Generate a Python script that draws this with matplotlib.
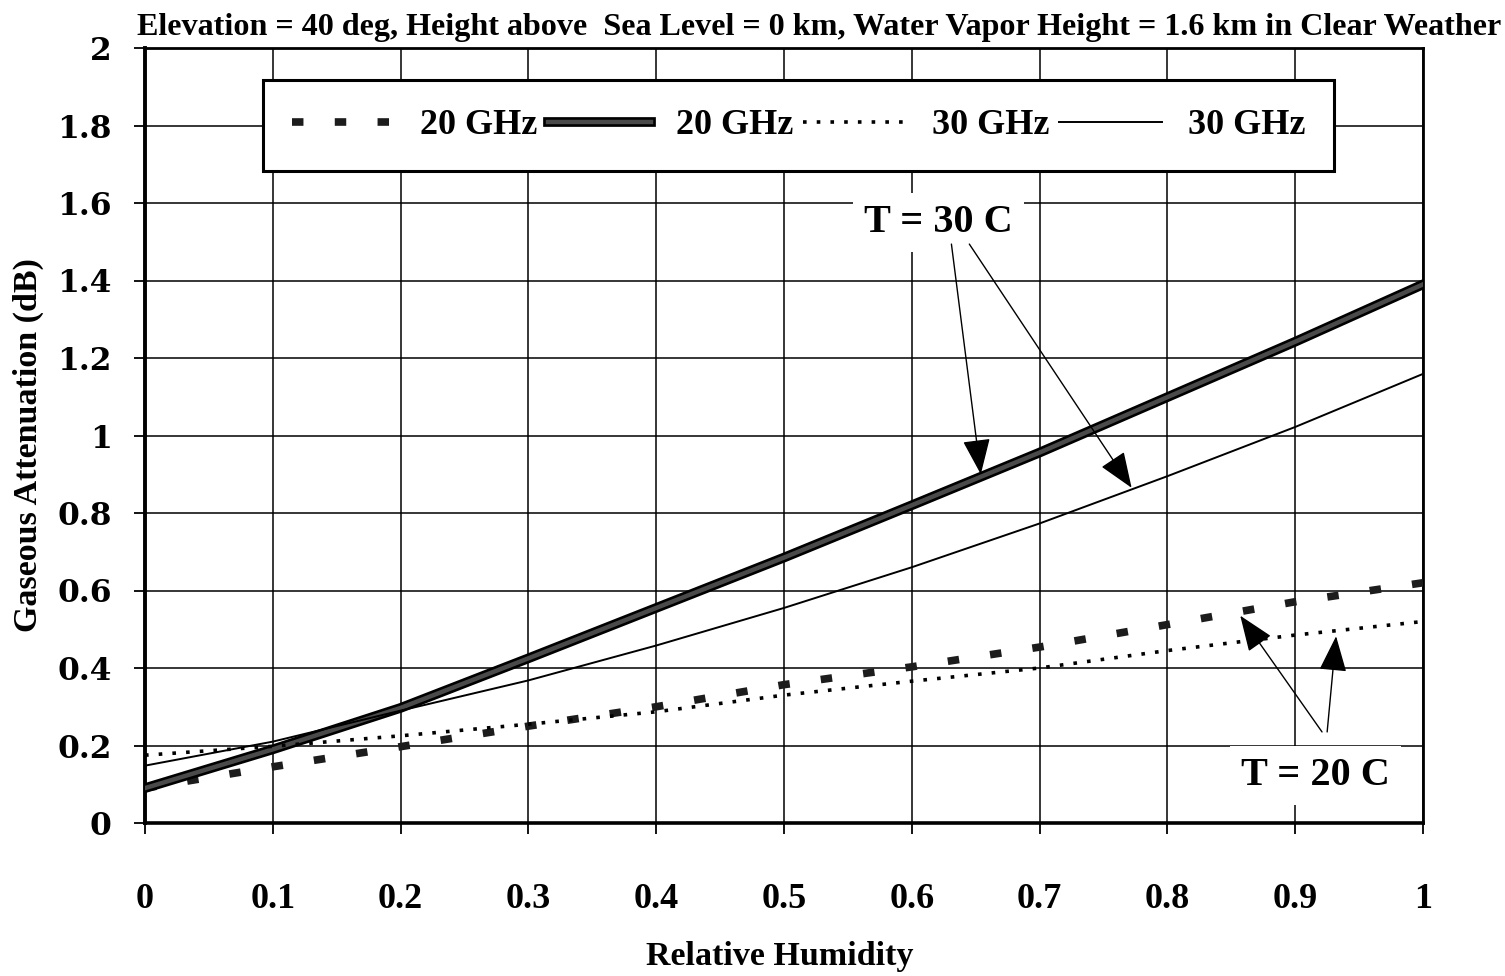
import matplotlib

matplotlib.use("Agg")
import matplotlib.pyplot as plt
import matplotlib.patheffects as pe

# relative humidity grid and gaseous attenuation (dB)
humidity = [0.0, 0.1, 0.2, 0.3, 0.4, 0.5, 0.6, 0.7, 0.8, 0.9, 1.0]
att_20ghz_t20 = [0.09, 0.145, 0.197, 0.25, 0.30, 0.357, 0.403, 0.454, 0.512, 0.571, 0.62]
att_20ghz_t30 = [0.09, 0.19, 0.297, 0.425, 0.555, 0.685, 0.82, 0.956, 1.099, 1.242, 1.39]
att_30ghz_t20 = [0.175, 0.198, 0.225, 0.255, 0.287, 0.33, 0.366, 0.40, 0.445, 0.485, 0.52]
att_30ghz_t30 = [0.148, 0.21, 0.29, 0.368, 0.458, 0.555, 0.66, 0.773, 0.895, 1.022, 1.159]

legend_labels = ["20 GHz", "20 GHz", "30 GHz", "30 GHz"]
x_ticks = [0, 0.1, 0.2, 0.3, 0.4, 0.5, 0.6, 0.7, 0.8, 0.9, 1]
x_tick_labels = ["0", "0.1", "0.2", "0.3", "0.4", "0.5", "0.6", "0.7", "0.8", "0.9", "1"]
y_ticks = [0, 0.2, 0.4, 0.6, 0.8, 1.0, 1.2, 1.4, 1.6, 1.8, 2.0]
y_tick_labels = ["0", "0.2", "0.4", "0.6", "0.8", "1", "1.2", "1.4", "1.6", "1.8", "2"]

title = ("Elevation = 40 deg, Height above  Sea Level = 0 km, "
         "Water Vapor Height = 1.6 km in Clear Weather")

serif = "Liberation Serif"
W, H = 1505, 976
fig = plt.figure(figsize=(W / 100, H / 100), dpi=100)
ax = fig.add_axes([145 / W, (H - 823) / H, 1278 / W, (823 - 48) / H])

# 20 GHz, T = 20 C: heavy square dashes
ax.plot(humidity, att_20ghz_t20, color="#1c1c1c", linewidth=5.5,
        linestyle=(0, (1.5, 4.1)), dash_capstyle="butt", label=legend_labels[0], zorder=4)
# 20 GHz, T = 30 C: heavy textured solid
ax.plot(humidity, att_20ghz_t30, color="#4a4a4a", linewidth=3.2, label=legend_labels[1], zorder=4,
        path_effects=[pe.Stroke(linewidth=7, foreground="black"), pe.Normal()])
# 30 GHz, T = 20 C: dotted
ax.plot(humidity, att_30ghz_t20, color="black", linewidth=2.6,
        linestyle=(0, (1.0, 2.8)), dash_capstyle="butt", label=legend_labels[2], zorder=4)
# 30 GHz, T = 30 C: thin solid
ax.plot(humidity, att_30ghz_t30, color="black", linewidth=1.4, label=legend_labels[3], zorder=4)

ax.set_xlim(0, 1)
ax.set_ylim(0, 2)
ax.set_xticks(x_ticks)
ax.set_xticklabels(x_tick_labels, fontfamily=serif, fontweight="bold", fontsize=26)
ax.set_yticks(y_ticks)
ax.set_yticklabels(y_tick_labels, fontfamily="DejaVu Serif", fontweight="bold", fontsize=22.5)
ax.tick_params(axis="x", direction="out", length=8, width=1.3, pad=35)
ax.tick_params(axis="y", direction="out", length=8, width=1.3, pad=16)
ax.grid(True, color="black", linewidth=1.1)
for side, lw in (("left", 2.8), ("bottom", 2.6), ("top", 2.0), ("right", 2.0)):
    ax.spines[side].set_linewidth(lw)

leg = ax.legend(ncol=4, loc="center", bbox_to_anchor=(0.0923, 0.84, 0.838, 0.12),
                mode="expand", borderaxespad=0, fancybox=False, framealpha=1,
                edgecolor="black", handlelength=2.85, handletextpad=0.7, columnspacing=0.5,
                borderpad=0.8, prop={"family": serif, "weight": "bold", "size": 26})
leg.get_frame().set_linewidth(2.2)
leg.set_zorder(6)

text_props = dict(fontfamily=serif, fontweight="bold", fontsize=29, ha="center", va="center",
                  zorder=7, bbox=dict(facecolor="white", edgecolor="none", pad=8))
arrow_props = dict(arrowstyle="-|>,head_length=0.9,head_width=0.35", mutation_scale=25,
                   color="black", linewidth=1.0, shrinkA=0, shrinkB=0)

ax.text(0.621, 1.55, "T = 30 C", **text_props)
ax.annotate("", xy=(0.654, 0.90), xytext=(0.631, 1.494), arrowprops=arrow_props, zorder=7)
ax.annotate("", xy=(0.772, 0.865), xytext=(0.645, 1.494), arrowprops=arrow_props, zorder=7)

ax.text(0.916, 0.123, "T = 20 C", **text_props)
ax.annotate("", xy=(0.857, 0.535), xytext=(0.921, 0.235), arrowprops=arrow_props, zorder=7)
ax.annotate("", xy=(0.932, 0.482), xytext=(0.925, 0.235), arrowprops=arrow_props, zorder=7)

fig.text(137 / W, 1 - 35 / H, title, fontfamily=serif, fontweight="bold", fontsize=23.1,
         ha="left", va="baseline")
fig.text(780 / W, 1 - 957 / H, "Relative Humidity", fontfamily=serif, fontweight="bold",
         fontsize=24.5, ha="center", va="center")
fig.text(28 / W, 1 - 445 / H, "Gaseous Attenuation (dB)", fontfamily=serif, fontweight="bold",
         fontsize=24.5, ha="center", va="center", rotation=90)

fig.savefig("out.png", dpi=100, facecolor="white")
